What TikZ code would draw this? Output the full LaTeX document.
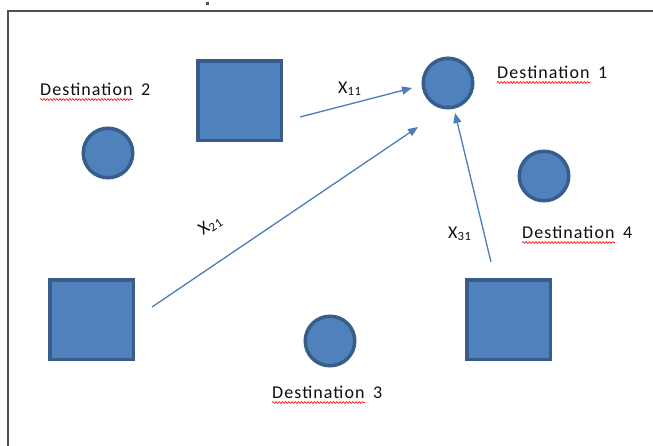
\documentclass[tikz,border=0pt]{standalone}
\usepackage{fontspec}
\setmainfont{Carlito}[LetterSpace=6]
\usetikzlibrary{arrows.meta,decorations.pathmorphing}

\definecolor{shapefill}{HTML}{4F81BD}
\definecolor{shapeedge}{HTML}{385D8A}
\definecolor{flowline}{HTML}{4A7EBB}
\definecolor{inktext}{HTML}{101010}
\definecolor{framegray}{HTML}{505050}

\tikzset{
  site/.style={rectangle, draw=shapeedge, fill=shapefill, line width=3.5pt,
    minimum width=83.5pt, minimum height=79.5pt, inner sep=0pt},
  dest/.style={circle, draw=shapeedge, fill=shapefill, line width=3.5pt,
    minimum size=49.5pt, inner sep=0pt},
  word/.style={inner sep=0pt, text=inktext, font=\fontsize{18}{20}\selectfont},
  flowlabel/.style={inner sep=0pt, text=inktext, font=\fontsize{18}{20}\selectfont},
  flow/.style={draw=flowline, line width=1.3pt,
    -{Triangle[length=10pt,width=8pt]}},
  spell/.style={draw=red, line width=0.6pt, decorate,
    decoration={snake, amplitude=0.9pt, segment length=3.2pt}},
  frameline/.style={draw=framegray, line width=1.5pt}
}

\begin{document}
\begin{tikzpicture}[x=1pt,y=-1pt]
\useasboundingbox (0,0) rectangle (653,445);
\fill[white] (0,0) rectangle (653,445);

% page frame
\draw[frameline] (8,446) -- (8,11) -- (654,11);
\fill[framegray] (206,2) rectangle (209,4.5);

% supply squares
\node[site] (s1) at (239.5,100.5) {};
\node[site] (s2) at (91.5,319.5) {};
\node[site] (s3) at (508.5,319.5) {};

% destinations
\node[dest] (d1) at (448,83) {};
\node[dest] (d2) at (108,153) {};
\node[dest] (d3) at (330,341) {};
\node[dest] (d4) at (544,176) {};

% flow end points
\coordinate (f11a) at (300,117);
\coordinate (f11b) at (412,88);
\coordinate (f21a) at (152,307);
\coordinate (f21b) at (418,127);
\coordinate (f31a) at (491,262);
\coordinate (f31b) at (455,113);

\draw[flow] (f11a) -- (f11b);
\draw[flow] (f21a) -- (f21b);
\draw[flow] (f31a) -- (f31b);

% flow labels
\node[flowlabel, anchor=base west] (x11) at (338,93) {X\textsubscript{11}};
\node[flowlabel, anchor=base west, rotate=34] (x21) at (203,236) {X\textsubscript{21}};
\node[flowlabel, anchor=base west] (x31) at (448,238) {X\textsubscript{31}};

% destination labels
\node[word, anchor=base west] (w1) at (497,78) {Destination};
\node[word, anchor=base west] (n1) at ([xshift=8pt]w1.base east) {1};
\node[word, anchor=base west] (w2) at (40,95) {Destination};
\node[word, anchor=base west] (n2) at ([xshift=8pt]w2.base east) {2};
\node[word, anchor=base west] (w3) at (272,398) {Destination};
\node[word, anchor=base west] (n3) at ([xshift=8pt]w3.base east) {3};
\node[word, anchor=base west] (w4) at (522,238) {Destination};
\node[word, anchor=base west] (n4) at ([xshift=8pt]w4.base east) {4};

\foreach \w in {w1,w2,w3,w4}
  \draw[spell] ([yshift=-4.5pt]\w.base west) -- ([yshift=-4.5pt]\w.base east);
\end{tikzpicture}
\end{document}
